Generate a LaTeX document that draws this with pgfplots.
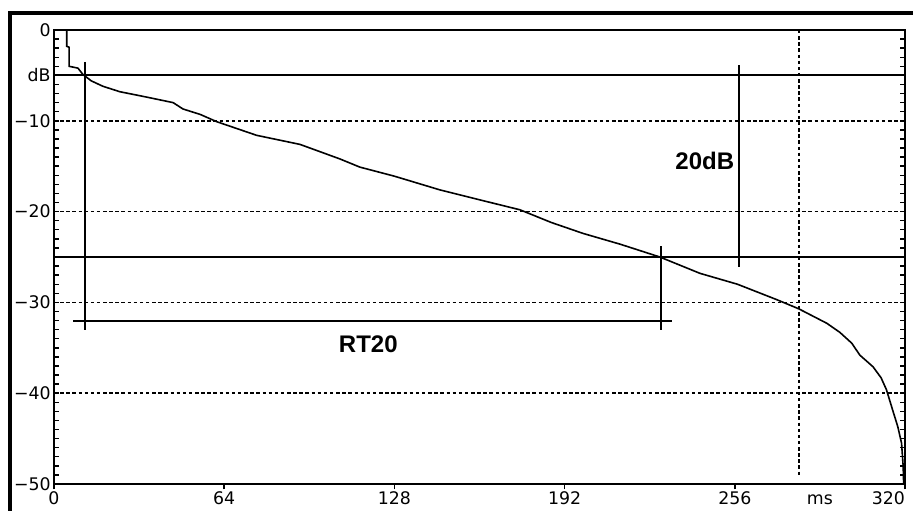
\documentclass[border=0pt]{standalone}
\usepackage{fontspec}
\setmainfont{Liberation Sans}
\newfontfamily\tickfont{DejaVu Sans}
\usepackage{pgfplots}
\pgfplotsset{compat=1.18}
\begin{document}
\begin{tikzpicture}
\useasboundingbox (-40.5pt,-19.5pt) rectangle (644.25pt,363pt);
\draw[line width=3pt] (-32.8pt,-25pt) -- (-32.8pt,353.25pt) -- (650pt,353.25pt);
\begin{axis}[
  at={(0,0)}, anchor=south west,
  scale only axis, width=638.25pt, height=340.5pt,
  xmin=0, xmax=320, ymin=-50, ymax=0,
  axis line style={line width=1.4pt, black},
  xtick={0,64,128,192,256,320},
  xticklabels={0,64,128,192,256,\llap{320}},
  extra x ticks={288},
  extra x tick labels={\vphantom{0}ms},
  extra x tick style={major tick style={draw=none}, grid=none},
  ytick={-50,-40,-30,-20,-10,-5,0},
  yticklabels={−50,−40,−30,−20,−10,dB,0},
  minor ytick={-49,-48,...,-1},
  xtick pos=bottom, ytick pos=both,
  xtick align=outside, ytick align=inside,
  major tick length=4pt, minor tick length=4pt,
  tick style={line width=1.1pt, black},
  tick label style={font=\tickfont\fontsize{13pt}{15pt}\selectfont},
  xticklabel style={yshift=2pt},
  yticklabel style={xshift=1pt},
  ymajorgrids,
  major grid style={dash pattern=on 2.6pt off 2pt, line width=1.3pt, black},
]
% reference lines
\addplot[black, line width=1.4pt] coordinates {(0,-5) (320,-5)};
\addplot[black, line width=1.4pt] coordinates {(0,-25) (320,-25)};
\addplot[black, dash pattern=on 2.6pt off 2pt, line width=1.4pt] coordinates {(280,0) (280,-49.3)};
% RT20 markers
\addplot[black, line width=1.4pt] coordinates {(11.7,-3.5) (11.7,-33.0)};
\addplot[black, line width=1.4pt] coordinates {(228.2,-23.8) (228.2,-33.0)};
\addplot[black, line width=1.5pt] coordinates {(7.3,-32.05) (232.4,-32.05)};
\addplot[black, line width=1.4pt] coordinates {(257.5,-3.9) (257.5,-26.1)};
% decay curve
\addplot[black, line width=1.2pt] coordinates {
(4.8,0) (4.8,-1.8) (5.7,-1.9) (5.7,-4.0) (9.0,-4.2) (10.9,-4.9) (14,-5.6)
(18.4,-6.2) (24.8,-6.8) (35,-7.4) (44.8,-8.0) (48.5,-8.7) (55,-9.3)
(61.2,-10.1) (76.2,-11.6) (92.5,-12.6) (107.5,-14.2) (115,-15.1)
(128,-16.1) (145,-17.6) (160,-18.7) (175.2,-19.8) (187,-21.2)
(198.9,-22.4) (213,-23.6) (227.8,-25.0) (242.9,-26.8) (257,-28.0)
(271.8,-29.7) (280,-30.7) (290.6,-32.3) (295.5,-33.3) (300,-34.5)
(303,-35.8) (308,-37.1) (311,-38.3) (313,-39.6) (315.4,-41.9)
(317.3,-43.7) (318.7,-45.5) (319.3,-48) (319.5,-50)
};
\node[font=\fontsize{18pt}{20pt}\selectfont\bfseries] at (axis cs:244.7,-14.4) {20dB};
\node[font=\fontsize{18pt}{20pt}\selectfont\bfseries] at (axis cs:118.2,-34.6) {RT20};
\end{axis}
\end{tikzpicture}
\end{document}
